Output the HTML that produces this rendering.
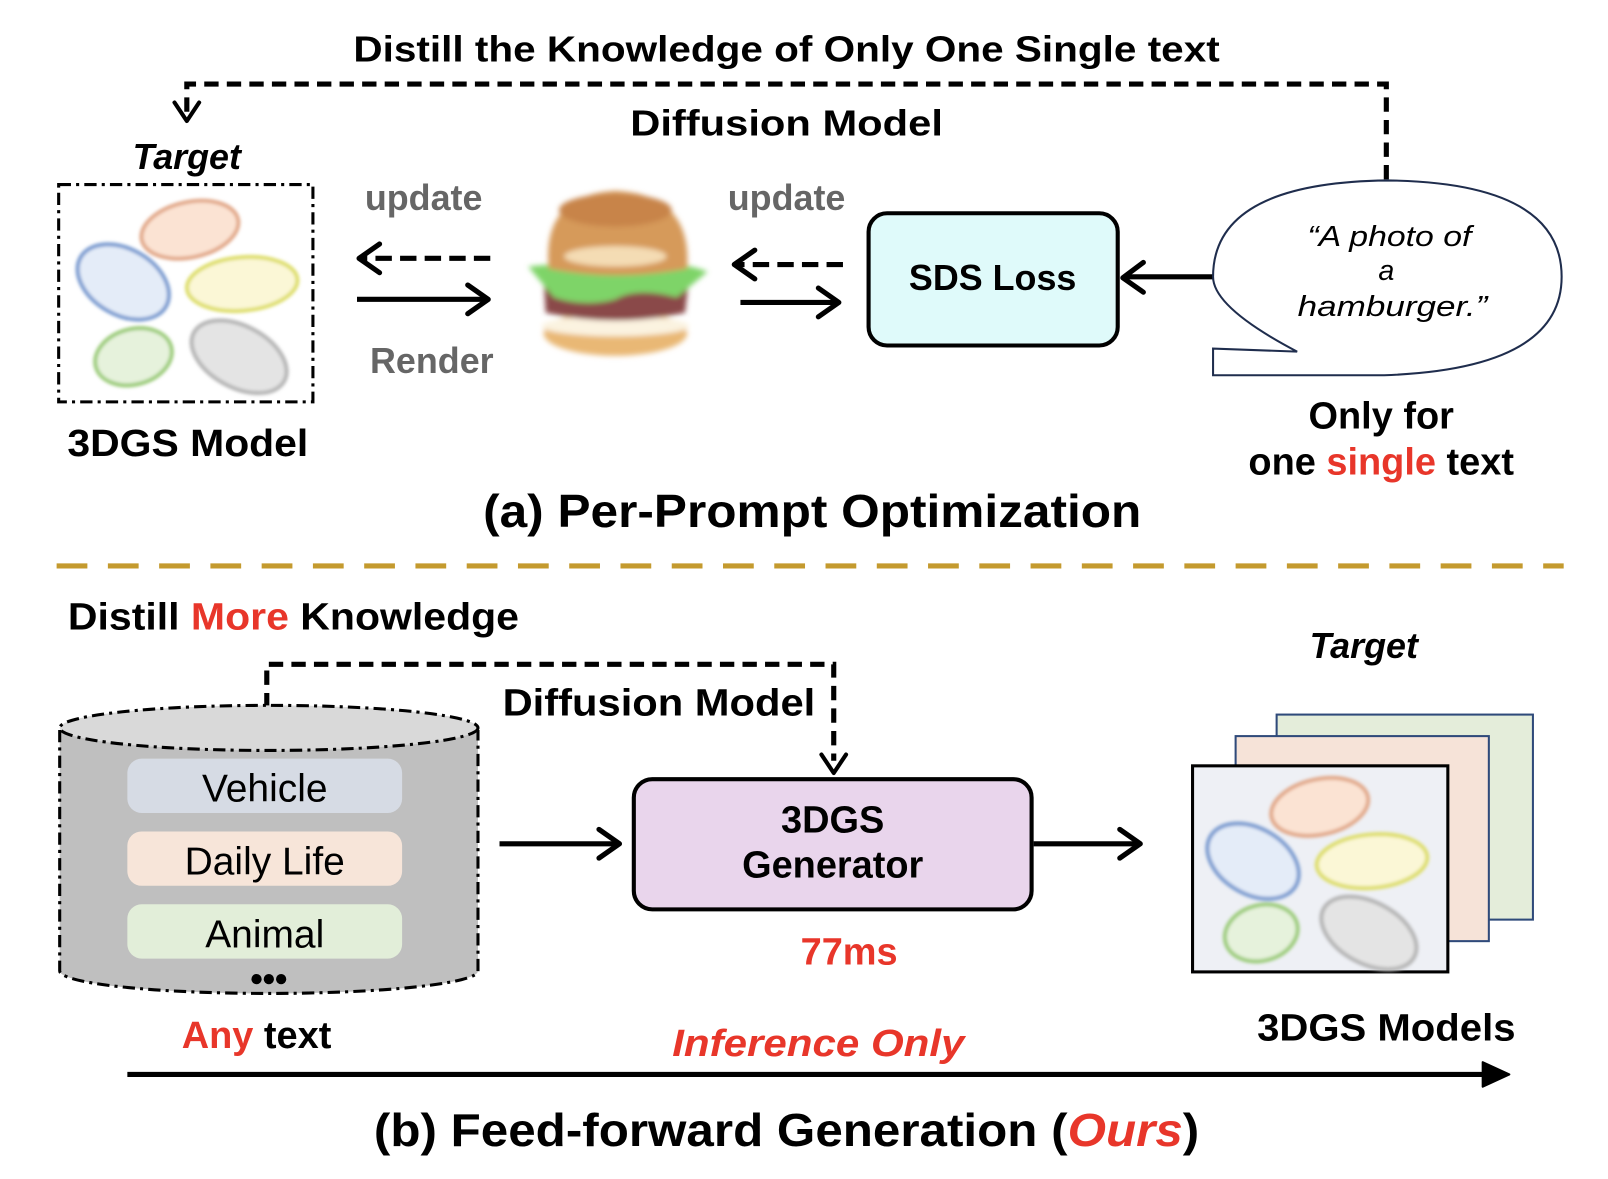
<!DOCTYPE html>
<html><head><meta charset="utf-8"><style>
html,body{margin:0;padding:0;background:#fff;}
svg{display:block;}
text{font-family:"Liberation Sans",sans-serif;font-weight:bold;}
</style></head><body>
<svg width="1608" height="1179" viewBox="0 0 1568 1150" xmlns="http://www.w3.org/2000/svg">
<defs>
<marker id="ah" viewBox="0 0 10 10" refX="8" refY="5" markerWidth="6" markerHeight="6" orient="auto-start-reverse" markerUnits="userSpaceOnUse" style="overflow:visible">
</marker>
<filter id="bl" x="-30%" y="-30%" width="160%" height="160%"><feGaussianBlur stdDeviation="2.5"/></filter>
<filter id="bl2"><feGaussianBlur stdDeviation="1.5"/></filter>
</defs>
<rect width="1568" height="1150" fill="#fff"/>

<!-- top -->
<text x="767" y="60" font-size="35" text-anchor="middle" textLength="845" lengthAdjust="spacingAndGlyphs">Distill the Knowledge of Only One Single text</text>
<path d="M1352,175 V82 H182 V112" fill="none" stroke="#000" stroke-width="5" stroke-dasharray="14,8"/>
<path d="M170,100 L182,118 L194,100" fill="none" stroke="#000" stroke-width="4" stroke-linecap="round" stroke-linejoin="round"/>
<text x="767" y="132" font-size="35" text-anchor="middle" textLength="305" lengthAdjust="spacingAndGlyphs">Diffusion Model</text>
<text x="182" y="165" font-size="35" font-style="italic" text-anchor="middle">Target</text>

<rect x="57" y="180" width="248" height="212" fill="none" stroke="#000" stroke-width="3" stroke-dasharray="12,5,3,5"/>
<g filter="url(#bl2)">
<ellipse cx="185" cy="224" rx="48" ry="27" transform="rotate(-12 185 224)" fill="#fbe3d3" stroke="#e2a98a" stroke-width="4"/>
<ellipse cx="120" cy="275" rx="48" ry="32" transform="rotate(30 120 275)" fill="#e4ecf8" stroke="#7a9bd0" stroke-width="4"/>
<ellipse cx="236" cy="277" rx="54" ry="26" transform="rotate(-5 236 277)" fill="#fbf7d6" stroke="#dede6a" stroke-width="4"/>
<ellipse cx="130" cy="348" rx="38" ry="27" transform="rotate(-15 130 348)" fill="#e6f2dc" stroke="#9ccc7a" stroke-width="4"/>
<ellipse cx="233" cy="348" rx="50" ry="30" transform="rotate(28 233 348)" fill="#e4e4e4" stroke="#b5b5b5" stroke-width="4"/>
</g>
<text x="183" y="445" font-size="37" text-anchor="middle" textLength="235" lengthAdjust="spacingAndGlyphs">3DGS Model</text>

<text x="413" y="205" font-size="35" fill="#666" text-anchor="middle">update</text>
<path d="M478,252 H352" stroke="#000" stroke-width="5" stroke-dasharray="16,8"/>
<path d="M370,238 L350,252 L370,266" fill="none" stroke="#000" stroke-width="5" stroke-linecap="round" stroke-linejoin="round"/>
<path d="M348,292 H474" stroke="#000" stroke-width="5"/>
<path d="M456,278 L476,292 L456,306" fill="none" stroke="#000" stroke-width="5" stroke-linecap="round" stroke-linejoin="round"/>
<text x="421" y="364" font-size="35" fill="#666" text-anchor="middle">Render</text>

<!-- hamburger -->
<g filter="url(#bl)">
<ellipse cx="600" cy="325" rx="70" ry="22" fill="#e9b874"/>
<ellipse cx="600" cy="318" rx="72" ry="10" fill="#fbf3e0"/>
<path d="M530,270 Q600,255 672,270 L668,305 Q600,320 532,305 Z" fill="#8a4848"/>
<path d="M515,260 Q560,255 600,262 Q650,250 690,265 L660,290 Q620,280 600,292 Q570,300 540,290 Z" fill="#7ed468"/>
<path d="M535,262 Q528,190 600,186 Q675,190 670,262 Q600,275 535,262 Z" fill="#d69a5a"/>
<ellipse cx="600" cy="205" rx="55" ry="16" fill="#c8844a"/>
<ellipse cx="600" cy="250" rx="50" ry="10" fill="#f4dcb4"/>
</g>
<text x="767" y="205" font-size="35" fill="#666" text-anchor="middle">update</text>
<path d="M822,258 H720" stroke="#000" stroke-width="5" stroke-dasharray="16,8"/>
<path d="M736,244 L716,258 L736,272" fill="none" stroke="#000" stroke-width="5" stroke-linecap="round" stroke-linejoin="round"/>
<path d="M722,295 H816" stroke="#000" stroke-width="5"/>
<path d="M798,281 L818,295 L798,309" fill="none" stroke="#000" stroke-width="5" stroke-linecap="round" stroke-linejoin="round"/>

<rect x="847" y="208" width="243" height="129" rx="18" fill="#dffafa" stroke="#000" stroke-width="4"/>
<text x="968" y="283" font-size="35" text-anchor="middle">SDS Loss</text>
<path d="M1183,270 H1097" stroke="#000" stroke-width="5"/>
<path d="M1115,256 L1095,271 L1115,285" fill="none" stroke="#000" stroke-width="5" stroke-linecap="round" stroke-linejoin="round"/>

<!-- bubble -->
<path d="M1265,343 Q1183,300 1183,270 Q1183,178 1353,176 Q1523,178 1523,270 Q1523,360 1350,366 H1183 V340 Z" fill="#fff" stroke="#1f2d4d" stroke-width="2"/>
<g font-family="'DejaVu Sans',cursive" font-style="italic" font-weight="normal" font-size="28" text-anchor="middle" style="font-weight:normal">
<text x="1355" y="240" style="font-weight:normal" textLength="160" lengthAdjust="spacingAndGlyphs">“A photo of</text>
<text x="1352" y="273" style="font-weight:normal">a</text>
<text x="1358" y="308" style="font-weight:normal" textLength="185" lengthAdjust="spacingAndGlyphs">hamburger.”</text>
</g>
<text x="1347" y="418" font-size="37" text-anchor="middle">Only for</text>
<text x="1347" y="463" font-size="37" text-anchor="middle">one <tspan fill="#e8362a">single</tspan> text</text>

<text x="792" y="514" font-size="45" text-anchor="middle" textLength="642" lengthAdjust="spacingAndGlyphs">(a) Per-Prompt Optimization</text>

<path d="M55,552 H1525" stroke="#c49a2e" stroke-width="5" stroke-dasharray="30,20"/>

<!-- bottom -->
<text x="66" y="614" font-size="37" textLength="440" lengthAdjust="spacingAndGlyphs">Distill <tspan fill="#e8362a">More</tspan> Knowledge</text>
<path d="M260,690 V648 H813 V742" fill="none" stroke="#000" stroke-width="5" stroke-dasharray="14,8"/>
<path d="M801,736 L813,754 L825,736" fill="none" stroke="#000" stroke-width="4" stroke-linecap="round" stroke-linejoin="round"/>
<text x="490" y="698" font-size="37" textLength="305" lengthAdjust="spacingAndGlyphs">Diffusion Model</text>

<path d="M58,712 V947 A204,22 0 0 0 466,947 V712 Z" fill="#bfbfbf"/>
<ellipse cx="262" cy="710" rx="204" ry="22" fill="#d9d9d9" stroke="#000" stroke-width="3" stroke-dasharray="12,5,3,5"/>
<path d="M58,712 V947 A204,22 0 0 0 466,947 V712" fill="none" stroke="#000" stroke-width="3" stroke-dasharray="12,5,3,5"/>
<rect x="124" y="740" width="268" height="53" rx="14" fill="#d6dbe4"/>
<rect x="124" y="811" width="268" height="53" rx="14" fill="#f7e5d9"/>
<rect x="124" y="882" width="268" height="53" rx="14" fill="#e2eed9"/>
<g font-size="38" text-anchor="middle" style="font-weight:normal">
<text x="258" y="782" style="font-weight:normal">Vehicle</text>
<text x="258" y="853" style="font-weight:normal">Daily Life</text>
<text x="258" y="924" style="font-weight:normal">Animal</text>
</g>
<circle cx="250" cy="955" r="5"/><circle cx="262" cy="955" r="5"/><circle cx="274" cy="955" r="5"/>
<text x="250" y="1022" font-size="37" text-anchor="middle"><tspan fill="#e8362a">Any</tspan> text</text>

<path d="M487,823 H600" stroke="#000" stroke-width="5"/>
<path d="M584,809 L604,823 L584,837" fill="none" stroke="#000" stroke-width="5" stroke-linecap="round" stroke-linejoin="round"/>
<rect x="618" y="760" width="388" height="127" rx="18" fill="#e9d5ec" stroke="#000" stroke-width="4"/>
<text x="812" y="812" font-size="37" text-anchor="middle">3DGS</text>
<text x="812" y="856" font-size="37" text-anchor="middle">Generator</text>
<text x="828" y="941" font-size="37" fill="#e8362a" text-anchor="middle">77ms</text>
<path d="M1008,823 H1108" stroke="#000" stroke-width="5"/>
<path d="M1092,809 L1112,823 L1092,837" fill="none" stroke="#000" stroke-width="5" stroke-linecap="round" stroke-linejoin="round"/>

<text x="1330" y="642" font-size="35" font-style="italic" text-anchor="middle">Target</text>
<rect x="1245" y="697" width="250" height="200" fill="#e4edda" stroke="#2f4a7a" stroke-width="2"/>
<rect x="1205" y="718" width="247" height="200" fill="#f6e3d8" stroke="#2f4a7a" stroke-width="2"/>
<rect x="1163" y="747" width="249" height="201" fill="#eef0f5" stroke="#000" stroke-width="3"/>
<g filter="url(#bl2)">
<ellipse cx="1287" cy="787" rx="48" ry="27" transform="rotate(-12 1287 787)" fill="#fbe3d3" stroke="#e2a98a" stroke-width="4"/>
<ellipse cx="1222" cy="840" rx="48" ry="32" transform="rotate(30 1222 840)" fill="#e4ecf8" stroke="#7a9bd0" stroke-width="4"/>
<ellipse cx="1338" cy="840" rx="54" ry="26" transform="rotate(-5 1338 840)" fill="#fbf7d6" stroke="#dede6a" stroke-width="4"/>
<ellipse cx="1230" cy="910" rx="36" ry="27" transform="rotate(-15 1230 910)" fill="#e6f2dc" stroke="#9ccc7a" stroke-width="4"/>
<ellipse cx="1335" cy="910" rx="50" ry="30" transform="rotate(28 1335 910)" fill="#e4e4e4" stroke="#b5b5b5" stroke-width="4"/>
</g>
<text x="1352" y="1015" font-size="37" text-anchor="middle" textLength="252" lengthAdjust="spacingAndGlyphs">3DGS Models</text>

<text x="798" y="1030" font-size="37" font-style="italic" fill="#e8362a" text-anchor="middle" textLength="285" lengthAdjust="spacingAndGlyphs">Inference  Only</text>
<path d="M124,1048 H1466" stroke="#000" stroke-width="5"/>
<path d="M1446,1036 L1472,1048 L1446,1060 Z" fill="#000" stroke="#000" stroke-width="2" stroke-linejoin="round"/>
<text x="767" y="1118" font-size="45" text-anchor="middle" textLength="805" lengthAdjust="spacingAndGlyphs">(b) Feed-forward Generation (<tspan fill="#e8362a" font-style="italic">Ours</tspan>)</text>
</svg>
</body></html>
